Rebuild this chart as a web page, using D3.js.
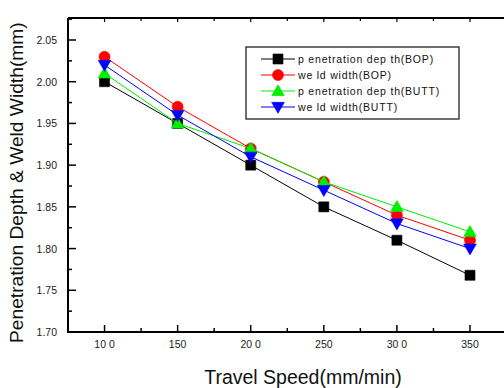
<!DOCTYPE html>
<html>
<head>
<meta charset="utf-8">
<script src="https://cdn.jsdelivr.net/npm/d3@7"></script>
<style>
  html, body { margin: 0; padding: 0; background: #fff; }
  svg { display: block; font-family: "Liberation Sans", Arial, sans-serif; }
</style>
</head>
<body>
<svg id="chart" width="504" height="388"></svg>
<script>
// Travel speed (mm/min) and measured geometry (mm)
const speeds = [100, 150, 200, 250, 300, 350];
const penetrationBOP = [2.00, 1.95, 1.90, 1.85, 1.81, 1.768];
const weldWidthBOP = [2.03, 1.97, 1.92, 1.88, 1.84, 1.81];
const penetrationBUTT = [2.01, 1.95, 1.92, 1.88, 1.85, 1.82];
const weldWidthBUTT = [2.02, 1.96, 1.91, 1.87, 1.83, 1.80];

const seriesNames = ["p enetration dep th(BOP)", "we ld width(BOP)", "p enetration dep th(BUTT)", "we ld width(BUTT)"];
const seriesColors = ["#000000", "#ff0000", "#00ee00", "#0000ff"];
const seriesSymbols = ["square", "circle", "triangleUp", "triangleDown"];

const xTickValues = [100, 150, 200, 250, 300, 350];
const xTickLabels = ["10 0", "150", "20 0", "250", "30 0", "350"];
const yTickValues = [1.70, 1.75, 1.80, 1.85, 1.90, 1.95, 2.00, 2.05];

const series = [penetrationBOP, weldWidthBOP, penetrationBUTT, weldWidthBUTT].map((vals, i) => ({
  name: seriesNames[i], color: seriesColors[i], symbol: seriesSymbols[i],
  points: speeds.map((s, j) => ({ x: s, y: vals[j] }))
}));

const svg = d3.select("#chart");
const plotLeft = 68, plotTop = 18, plotBottom = 332;

const x = d3.scaleLinear().domain([75, 375]).range([plotLeft, plotLeft + 300 * (402 / 275)]);
const y = d3.scaleLinear().domain([1.70, 2.05]).range([plotBottom, 40]);
const yTopVal = y.invert(plotTop);

// frame
const frame = svg.append("g");
frame.append("line").attr("x1", plotLeft).attr("x2", 510).attr("y1", plotBottom).attr("y2", plotBottom)
  .attr("stroke", "#000").attr("stroke-width", 2);
frame.append("line").attr("x1", plotLeft).attr("x2", 510).attr("y1", plotTop).attr("y2", plotTop)
  .attr("stroke", "#000").attr("stroke-width", 2);
frame.append("line").attr("x1", plotLeft).attr("x2", plotLeft).attr("y1", plotTop).attr("y2", plotBottom + 1)
  .attr("stroke", "#000").attr("stroke-width", 2);

// bottom axis (inward ticks) and mirrored top ticks
const minorX = d3.range(75, 376, 25);
const xAxisG = svg.append("g");
xAxisG.selectAll("line.bottom").data(minorX).join("line").attr("class", "bottom")
  .attr("x1", d => x(d)).attr("x2", d => x(d))
  .attr("y1", plotBottom).attr("y2", d => plotBottom - (xTickValues.includes(d) ? 7 : 4))
  .attr("stroke", "#000").attr("stroke-width", 1.5);
xAxisG.selectAll("line.top").data(minorX).join("line").attr("class", "top")
  .attr("x1", d => x(d)).attr("x2", d => x(d))
  .attr("y1", plotTop).attr("y2", d => plotTop + (xTickValues.includes(d) ? 4 : 3))
  .attr("stroke", "#000").attr("stroke-width", 1.2);
xAxisG.selectAll("text").data(xTickValues).join("text")
  .attr("x", d => x(d)).attr("y", 348)
  .attr("text-anchor", "middle").attr("font-size", 10.5).attr("fill", "#222")
  .text((d, i) => xTickLabels[i]);

// left axis (inward ticks)
const minorY = d3.range(0, 16).map(i => 1.70 + i * 0.025).filter(v => v <= yTopVal);
const yAxisG = svg.append("g");
yAxisG.selectAll("line").data(minorY).join("line")
  .attr("x1", plotLeft).attr("x2", (d, i) => plotLeft + (i % 2 === 0 ? 8 : 4))
  .attr("y1", d => y(d)).attr("y2", d => y(d))
  .attr("stroke", "#000").attr("stroke-width", 1.5);
yAxisG.selectAll("text").data(yTickValues).join("text")
  .attr("x", 57).attr("y", d => y(d) + 4)
  .attr("text-anchor", "end").attr("font-size", 10.5).attr("fill", "#222")
  .text(d => d3.format(".2f")(d));

// axis titles
svg.append("text").attr("transform", "translate(23,343) rotate(-90)")
  .attr("font-size", 19.2).attr("fill", "#111").text("Penetration Depth & Weld Width(mm)");
svg.append("text").attr("x", 303).attr("y", 384).attr("text-anchor", "middle")
  .attr("font-size", 19.5).attr("fill", "#111").text("Travel Speed(mm/min)");

// marker shapes
const sym = {
  square: d3.symbol(d3.symbolSquare, 100),
  circle: d3.symbol(d3.symbolCircle, 95),
  triangleUp: d3.symbol(d3.symbolTriangle, 70),
  triangleDown: d3.symbol(d3.symbolTriangle, 70)
};
function marker(g, s, cx, cy) {
  const rot = s.symbol === "triangleDown" ? " rotate(180)" : "";
  const dy = s.symbol === "triangleUp" ? 1 : s.symbol === "triangleDown" ? -1 : 0;
  g.append("path").attr("d", sym[s.symbol]())
    .attr("transform", `translate(${cx},${cy + dy})${rot}`)
    .attr("fill", s.color).attr("stroke", s.color).attr("stroke-width", 0.6);
}

const line = d3.line().x(d => x(d.x)).y(d => y(d.y));
series.forEach(s => {
  const g = svg.append("g");
  g.append("path").datum(s.points).attr("d", line)
    .attr("fill", "none").attr("stroke", s.color).attr("stroke-width", 1);
  s.points.forEach(p => marker(g, s, x(p.x), y(p.y)));
});

// legend
const lg = svg.append("g");
lg.append("rect").attr("x", 246).attr("y", 47).attr("width", 213).attr("height", 72)
  .attr("fill", "#fff").attr("stroke", "#222").attr("stroke-width", 1.3);
series.forEach((s, i) => {
  const ly = 59 + i * 16;
  lg.append("line").attr("x1", 261).attr("x2", 295).attr("y1", ly).attr("y2", ly)
    .attr("stroke", s.color).attr("stroke-width", 1);
  marker(lg, s, 278, ly);
  lg.append("text").attr("x", 298).attr("y", ly + 4)
    .attr("font-size", 10.5).attr("letter-spacing", 0.8).attr("fill", "#111").text(s.name);
});
</script>
</body>
</html>
